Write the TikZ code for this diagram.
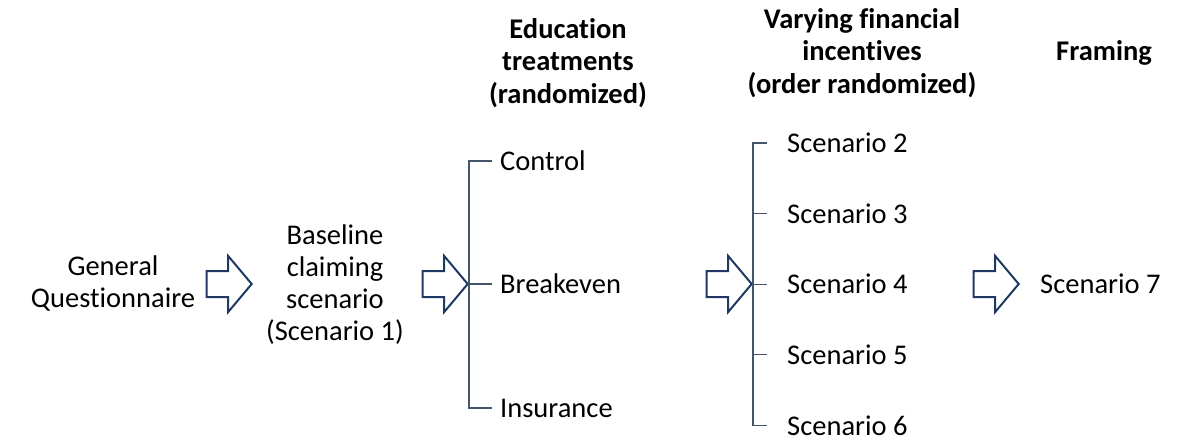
\documentclass[tikz,border=0pt]{standalone}
\usepackage{fontspec}
\setmainfont{Carlito}[Ligatures=NoCommon]
\definecolor{arrownavy}{RGB}{31,56,100}
\definecolor{brackgray}{RGB}{68,84,106}
\usetikzlibrary{shapes.arrows,positioning,calc}

\begin{document}
\begin{tikzpicture}[x=1pt,y=-1pt,
    txt/.style={font=\fontsize{28.5}{32}\selectfont, align=center, inner sep=0pt},
    head/.style={txt, font=\fontsize{28.5}{32.5}\selectfont\bfseries},
    opt/.style={txt, anchor=west},
    blockarrow/.style={single arrow, draw=arrownavy, line width=2pt, anchor=tip,
        minimum height=45pt, minimum width=54pt, single arrow head extend=15pt,
        single arrow tip angle=100, inner xsep=0pt, inner ysep=12pt},
    brack/.style={draw=brackgray, line width=1.3pt}]
    \useasboundingbox (0,0) rectangle (1191,441);

    % Headers
    \node[head] (edu) at (568,63) {Education\\treatments\\(randomized)};
    \node[head] (fin) at (862,53) {Varying financial\\incentives\\(order randomized)};
    \node[head] (frm) at (1104,53) {Framing};

    % Questionnaire and baseline
    \node[txt] (gq) at (113,283) {General\\Questionnaire};
    \node[blockarrow] (a1) at (253,284) {};
    \node[txt] (base) at (335,285) {Baseline\\claiming\\scenario\\(Scenario 1)};
    \node[blockarrow] (a2) at (469,284) {};

    % Education treatments
    \node[opt, inner xsep=8pt] (ctrl) at (492,161) {Control};
    \node[opt, inner xsep=8pt] (brk) at (492,284) {Breakeven};
    \node[opt, inner xsep=8pt] (ins) at (492,408) {Insurance};
    \draw[brack] (ctrl.west) -- (ctrl.west -| a2.tip) -- (ins.west -| a2.tip) -- (ins.west);
    \draw[brack] (brk.west) -- (brk.west -| a2.tip);

    % Financial incentives
    \node[blockarrow] (a3) at (753,284) {};
    \foreach \i in {2,...,6}
        \node[opt] (s\i) at (787,{143+70.6*(\i-2)}) {Scenario \i};
    \draw[brack] ([xshift=-20pt]s2.west) -- (s2.west -| a3.tip) -- (s6.west -| a3.tip) -- ([xshift=-20pt]s6.west);
    \foreach \i in {3,4,5}
        \draw[brack] ([xshift=-20pt]s\i.west) -- (s\i.west -| a3.tip);

    % Framing
    \node[blockarrow] (a4) at (1020,284) {};
    \node[opt] (s7) at (1040,284) {Scenario 7};
\end{tikzpicture}
\end{document}
